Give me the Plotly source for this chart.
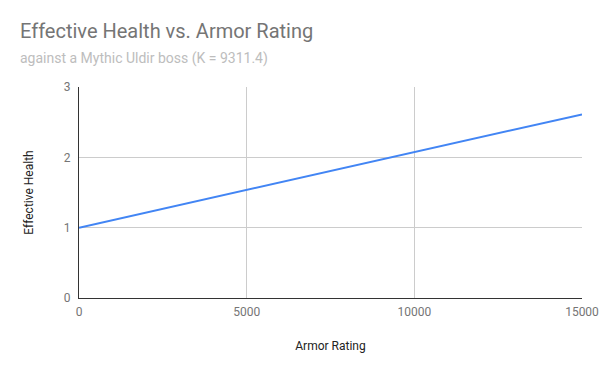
import plotly.graph_objects as go

armor_rating = [0, 5000, 10000, 15000]
effective_health = [1.0, 1.537, 2.074, 2.611]

title_text = "Effective Health vs. Armor Rating"
subtitle_text = "against a Mythic Uldir boss (K = 9311.4)"
x_ticks = [0, 5000, 10000, 15000]
y_ticks = [0, 1, 2, 3]

fig = go.Figure()
fig.add_trace(go.Scatter(x=armor_rating, y=effective_health, mode="lines",
                         line=dict(color="#4285F4", width=2), showlegend=False,
                         hoverinfo="x+y"))

W, H = 600, 371
L, R, T, B = 79, 18, 87, 73

fig.update_layout(
    template="none",
    width=W, height=H,
    margin=dict(l=L, r=R, t=T, b=B, pad=0),
    paper_bgcolor="white", plot_bgcolor="white",
    font=dict(family="Roboto", color="#757575", size=12),
    xaxis=dict(range=[0, 15000], tickvals=x_ticks, ticktext=[str(v) for v in x_ticks],
               showgrid=True, gridcolor="#cccccc", gridwidth=1, automargin=False,
               zeroline=False, showline=True, linecolor="#333333", linewidth=1,
               ticks="", ticklen=0, ticklabelstandoff=3,
               tickfont=dict(size=12, color="#757575"),
               title=dict(text="Armor Rating", font=dict(size=12, color="#222222"), standoff=23)),
    yaxis=dict(range=[0, 3], tickvals=y_ticks, ticktext=[str(v) for v in y_ticks],
               showgrid=True, gridcolor="#cccccc", gridwidth=1, automargin=False,
               zeroline=False, showline=True, linecolor="#333333", linewidth=1,
               ticks="", ticklen=0, ticklabelstandoff=5,
               tickfont=dict(size=12, color="#757575"),
               title=dict(text="Effective Health", font=dict(size=12, color="#222222"), standoff=27)),
    annotations=[
        dict(text=title_text, xref="paper", yref="paper",
             x=(18 - L) / (W - L - R), y=1 + (T - 31) / (H - T - B),
             xanchor="left", yanchor="middle", showarrow=False,
             font=dict(size=20, color="#757575", family="Roboto")),
        dict(text=subtitle_text, xref="paper", yref="paper",
             x=(18 - L) / (W - L - R), y=1 + (T - 58) / (H - T - B),
             xanchor="left", yanchor="middle", showarrow=False,
             font=dict(size=14, color="#bdbdbd", family="Roboto")),
    ],
)

fig.write_html("out.html", config={"responsive": False, "displayModeBar": False},
               post_script="document.body.style.margin='0';document.body.style.overflow='hidden';")
